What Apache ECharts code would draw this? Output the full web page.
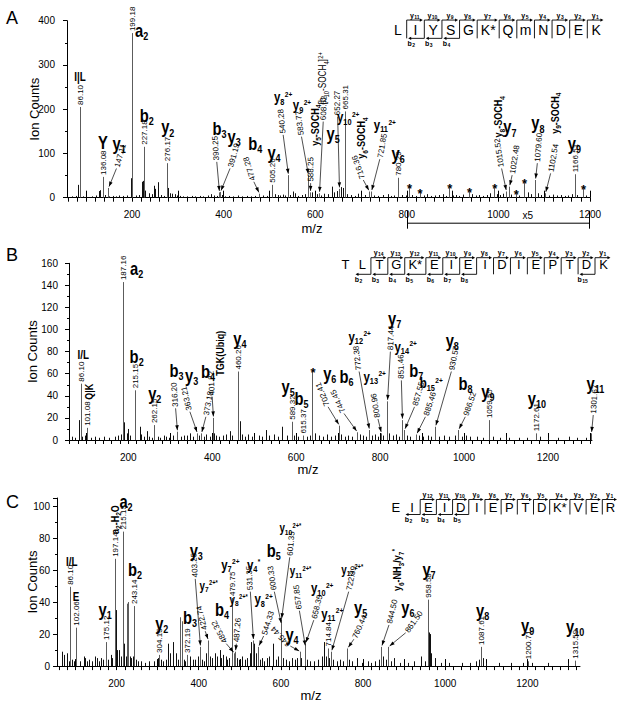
<!DOCTYPE html>
<html><head><meta charset="utf-8">
<script src="https://cdn.jsdelivr.net/npm/echarts@6/dist/echarts.min.js"></script>
<style>html,body{margin:0;padding:0;background:#fff}#c{width:624px;height:703px}</style>
</head><body><div id="c"></div>
<script>
// ================= DATA =================
// ---- Panel A ----
const peaksA = [[86.10,205],[136.08,47],[147.11,22],[199.18,372],[227.18,115],[276.17,78],[390.25,12],[391.19,13],[477.28,9],[505.26,29],[540.28,51],[583.77,51],[588.25,12],[608.62,10],[652.27,20],[665.31,195],[716.36,14],[721.85,14],[780.29,45],[805,24],[828,12],[893,22],[935.6,13],[991,22],[1015.52,14],[1022.48,25],[1038,9],[1056,34],[1079.60,40],[1102.54,10],[1166.51,53],[1185,20]];
const noiseA = [[70,3],[78,4],[83,29],[92,3],[100,2],[112,3],[121,5],[127,15],[130,17],[140,6],[150,3],[158,4],[165,3],[172,5],[181,4],[188,5],[197,44],[201,12],[209,5],[215,6],[221,36],[224,38],[229,16],[238,10],[244,8],[248,27],[251,20],[257,35],[263,6],[270,4],[278,22],[283,10],[287,9],[293,8],[298,5],[305,4],[312,3],[320,3],[330,4],[337,3],[348,4],[355,3],[366,5],[372,8],[379,5],[386,4],[396,6],[404,3],[411,4],[420,3],[431,5],[440,3],[452,4],[460,3],[468,4],[486,5],[495,4],[512,8],[518,6],[523,5],[530,7],[535,5],[546,6],[552,14],[556,10],[563,4],[572,6],[578,8],[594,12],[599,7],[603,8],[613,5],[620,9],[628,8],[636,25],[641,12],[647,15],[657,24],[661,22],[670,8],[678,6],[686,4],[693,9],[700,5],[708,6],[728,5],[738,4],[748,6],[758,8],[766,4],[772,5],[790,6],[798,5],[812,6],[820,4],[838,5],[845,8],[852,4],[862,5],[870,6],[880,8],[885,4],[900,5],[908,6],[915,4],[922,7],[942,8],[950,5],[958,6],[966,4],[975,6],[982,10],[998,8],[1004,6],[1010,9],[1028,7],[1046,5],[1064,12],[1071,8],[1086,10],[1092,6],[1110,5],[1120,7],[1128,5],[1136,6],[1145,4],[1152,5],[1160,8],[1172,6],[1192,5]];
const starsA = [805,828,893,935.6,991,1038,1056,1185];
const massA = [[86.10],[136.08],[147.11,166,66],[199.18],[227.18],[276.17],[390.25,385,81],[391.19,414,66],[477.28,466,36],[505.26],[540.28,530,142],[583.77,570,138],[588.25,590,33],[608.62,617.5,172],[652.27,649,183],[665.31],[716.36,705,40],[721.85,741,87],[780.29],[1015.52,1007,66],[1022.48,1030,51],[1079.60,1085,78],[1102.54,1114,55],[1166.51]];
const ionBigA = [['Y',136.5,126],['y_1',172,123],['a_2',221,379],['b_2',232,187],['y_2',278,160],['b_3',391,157],['y_3',423,138],['b_4',469,123],['y_4',510,103],['y_5',639,146],['y_6',781,100],['y_7',1025,160],['y_8',1086,169],['y_9',1166,123]];
const ionMedA = [['y_8^{2+}',530,227],['y_9^{2+}',571,209],['y_{10}^{2+}',672,182],['y_{11}^{2+}',752,164]];
const ionSmallA = [['I|L',86.3,273]];
const ionRotA = [['y_5-SOCH_4',599,164],['y_6-SOCH_4',701,135],['y_8-SOCH_4',1000,183],['y_9-SOCH_4',1123,191]];
const ionRotNA = [['[b_{10}-SOCH_4]^{2+}',617,270]];
const seqA = ['L','I','Y','S','G','K*','Q','m','N','D','E','K'];
const seqYA = [1,2,3,4,5,6,7,8,9,10,11];
const seqBA = [2,3,4];

// ---- Panel B ----
const peaksB = [[86.10,51],[101.08,11],[187.16,143],[215.15,45],[262.15,13.5],[316.20,7.5],[363.21,6],[373.18,6],[401.22,20],[460.26,62],[589.32,16.5],[615.37,4],[638.8,62],[702.41,13],[744.45,7],[772.38,9],[800.96,6],[817.44,35],[851.46,18],[857.55,9],[885.46,5],[930.57,12],[986.52,9],[1059.55,18],[1172.61,6],[1301.67,6]];
const noiseB = [[66,3],[74,2],[82,18],[90,3],[97,4],[112,2],[120,3],[130,2],[142,3],[155,2],[168,3],[175,4],[183,5],[190,16],[196,6],[200,10],[205,4],[227,12],[231,5],[237,3],[244,8],[250,3],[256,2],[270,3],[276,2],[284,4],[290,3],[298,2],[306,4],[326,3],[332,4],[340,4],[347,6],[355,3],[369,4],[380,3],[386,5],[395,3],[405,6],[410,4],[416,3],[425,4],[432,5],[442,8],[447,4],[465,17],[470,5],[478,3],[486,5],[494,3],[500,2],[512,4],[519,3],[527,9],[536,4],[546,5],[556,3],[567,12],[578,4],[594,4],[604,3],[625,3],[632,4],[645,6],[655,4],[663,3],[673,5],[684,3],[693,4],[708,5],[716,3],[724,4],[732,3],[752,5],[760,4],[767,3],[780,4],[788,5],[795,3],[808,4],[822,6],[830,4],[838,5],[845,3],[864,4],[872,3],[893,4],[903,3],[915,4],[922,3],[940,3],[952,4],[965,3],[978,4],[995,3],[1005,4],[1015,3],[1030,3],[1045,2],[1070,3],[1085,2],[1100,3],[1108,2],[1130,2],[1150,2],[1180,3],[1200,2],[1225,2],[1250,3],[1270,2],[1290,2]];
const starsB = [638.8];
const massB = [[86.10],[101.08],[187.16],[215.15],[262.15],[316.20,312.6,28.7],[363.21,346.7,25.6],[373.18,384.8,21],[401.22,399.8,39],[460.26],[589.32],[615.37],[702.41,676,30],[744.45,714,24],[772.38,750,62],[800.96,795,19],[817.44,824.5,80],[851.46,850.7,54],[857.55,882,30],[885.46,908,21],[930.57,969.8,62],[986.52,1003,21],[1059.55],[1172.61],[1301.67,1308,22.6]];
const ionBigB = [['a_2',219.8,155.5],['b_2',219.8,75.5],['y_2',263,42],['b_3',315,63.4],['y_3',350.7,58.9],['b_4',390,61.9],['y_4',465.7,92],['y_5',580.7,48.3],['b_5',612.6,37.8],['y_6',680,60.4],['b_6',719.7,57.4],['y_7',834.8,110],['b_7',886,63.4],['y_8',972,90.6],['b_8',1003.8,51.3],['y_9',1057,43.8],['y_{10}',1173.6,37.8],['y_{11}',1313,51.3]];
const ionMedB = [['y_{12}^{2+}',751.4,93.6],['y_{13}^{2+}',787,57.4],['y_{14}^{2+}',861,84.5],['b_{15}^{2+}',922,51.3]];
const ionSmallB = [['I/L',92.6,77]];
const ionRotB = [['Q|K',107,43.8],['TGK(Ubiq)',418,78.5]];
const ionRotNB = [];
const seqB = ['T','L','T','G','K*','E','I','E','I','D','I','E','P','T','D','K'];
const seqYB = [2,3,4,5,6,7,8,9,10,11,12,13,14,15];
const seqBB = [2,3,4,5,6,7,8,15];

// ---- Panel C ----
const peaksC = [[86.10,49.5],[102.06,24],[175.12,15],[197.14,67],[215.15,84],[226,39],[229,40],[243.14,37.5],[304.15,7],[355,30.5],[359,28],[372.19,7],[403.25,12],[422.74,16],[479.75,42.5],[485.32,8],[487.26,9],[531.35,16],[544.33,12],[600.33,26],[601.35,29],[645.44,9],[657.85,12],[658.35,14],[714.84,11],[722.39,9],[760.44,11],[844.50,12],[861.50,12],[958.58,41.5],[1087.61,12],[1200.71,3],[1315.59,3.4]];
const noiseC = [[66,9],[72,7],[80,8],[84,3],[92,4],[97,3],[110,3],[120,6],[124,5],[128,3],[134,4],[141,3],[147,6],[152,5],[158,3],[163,5],[168,4],[180,4],[186,7],[190,5],[198,35],[201,10],[205,10],[210,6],[218,14],[222,6],[232,6],[236,5],[240,6],[247,4],[252,3],[260,3],[270,2],[280,3],[290,3],[300,5],[308,4],[314,3],[320,4],[326,14],[331,8],[338,15],[344,8],[350,4],[363,4],[367,3],[378,6],[385,4],[392,4],[398,6],[408,4],[413,3],[418,8],[428,6],[433,5],[440,8],[445,6],[451,10],[455,5],[460,7],[466,6],[470,4],[474,5],[482,14],[492,5],[498,4],[505,6],[512,4],[518,5],[525,8],[528,15],[535,14],[540,8],[549,4],[555,5],[560,3],[567,5],[572,6],[580,14],[587,4],[594,6],[605,5],[612,4],[620,3],[628,5],[635,4],[640,5],[650,5],[664,4],[670,3],[680,3],[690,4],[700,6],[704,15],[710,6],[718,5],[728,4],[736,3],[744,4],[752,3],[765,4],[772,3],[785,5],[798,2],[812,3],[820,2],[830,3],[838,4],[848,6],[855,4],[868,3],[875,5],[890,2],[910,2],[925,3],[940,6],[950,3],[959.5,21],[962,20],[966,8],[975,5],[990,2],[1010,2],[1040,2],[1060,2],[1075,3],[1083,4],[1092,5],[1100,2],[1130,2],[1160,2],[1190,2],[1210,2],[1250,2],[1300,2]];
const starsC = [];
const massC = [[86.10],[102.06],[175.12],[197.14],[215.15],[243.14],[304.15],[372.19],[403.25,391.5,54.5],[422.74,415.8,21.8],[479.75],[485.32,467,14],[487.26,491.5,14],[531.35,525.6,46.5],[544.33,558,18.8],[600.33,584,46.5],[601.35,621.5,68],[645.44,623,12.5],[657.85,645,34.6],[658.35,680,28.7],[714.84],[722.39,765,46.5],[760.44,777.6,16.8],[844.50,863,25.7],[861.50,903.7,20.8],[958.58],[1087.61],[1200.71],[1315.59]];
const ionBigC = [['a_2',223,103],['b_2',245,60.4],['y_1',172,35.7],['y_2',310,26.7],['b_3',379,30.7],['y_3',394,72.3],['b_4',456.6,35.7],['b_5',582.5,72.3],['y_4',627,19.8],['y_5',794,36.7],['y_6',909,36.7],['y_7',960.5,60.4],['y_8',1091,34.6],['y_9',1200.5,25.7],['y_{10}',1316,24.7]];
const ionMedC = [['y_7^{2+}',477,63.4],['y_4^*',533.7,63.4],['y_8^{2+}',558,41.6],['y_{10}^{2+}',700.5,48.5],['y_{11}^{2+}',725,32.7]];
const ionSmallC = [['y_7^{2+*}',424,50.5],['y_8^{2+*}',497,41.6],['y_{10}^{2+*}',623,86.2],['y_{11}^{2+*}',647.6,59.4],['y_{12}^{2+*}',773.6,60.4],['I/L',90.7,65.4],['E',101.2,43.6]];
const ionRotC = [['a_2-H_2O',196.3,91.5],['y_6-NH_3/y_7^*',883,60]];
const ionRotNC = [];
const seqC = ['E','I','E','I','D','I','E','P','T','D','K*','V','E','R'];
const seqYC = [2,3,4,5,6,7,8,9,10,11,12,13];
const seqBC = [2,3,4,5];

// axis ranges and tick labels
const xRange = [[58,1200],[58.6,1305],[55,1328]];
const yRange = [[0,400,100],[0,160,20],[0,105,20]];
const xTickLabels = [200,400,600,800,1000,1200];
const zoomRegionA = [800,1200];

// ================= LAYOUT / STYLE =================
const FONT = '"Liberation Sans", Arial, Helvetica, sans-serif';
const grids = [
  {left:67, top:20.7, width:523, height:177},
  {left:69, top:263.3, width:523, height:176.7},
  {left:57, top:498, width:523, height:177}
];

function hAt(mz, arrs){
  let best=null, bd=1e9;
  arrs.forEach(a=>a.forEach(p=>{const d=Math.abs(p[0]-mz); if(d<bd){bd=d;best=p[1];}}));
  return best;
}
const measCtx = document.createElement('canvas').getContext('2d');
function tw(t, font){ measCtx.font = font; return measCtx.measureText(t).width; }
function parseIon(str){
  const segs=[]; let buf='', i=0;
  const flush=()=>{ if(buf){ segs.push({t:buf,k:'n'}); buf=''; } };
  while(i<str.length){
    const c=str[i];
    if(c==='_'||c==='^'){
      flush(); let t;
      if(str[i+1]==='{'){ const j=str.indexOf('}',i); t=str.slice(i+2,j); i=j+1; }
      else { t=str[i+1]; i+=2; }
      segs.push({t:t,k:c==='_'?'s':'p'});
    } else { buf+=c; i++; }
  }
  flush(); return segs;
}
const ION_CLS = {B:{n:18,s:11,p:10,w:'bold'}, M:{n:14,s:9,p:8,w:'bold'}, S:{n:12,s:8,p:7,w:'bold'},
                 R:{n:11,s:8,p:7,w:'bold'}, N:{n:10,s:7,p:7,w:'normal'}};

function stickSeries(g, data, color){
  return {type:'custom', xAxisIndex:g, yAxisIndex:g, data:data, clip:true, silent:true, z:2,
    encode:{x:0,y:1},
    renderItem:function(params, api){
      const p0=api.coord([api.value(0),0]), p1=api.coord([api.value(0),api.value(1)]);
      const x=Math.round(p0[0])+0.5;
      return {type:'line', shape:{x1:x,y1:p0[1],x2:x,y2:p1[1]}, style:{stroke:color,lineWidth:1}};
    }};
}
function massSeries(g, labels, arrs){
  return {type:'custom', xAxisIndex:g, yAxisIndex:g, clip:false, silent:true, z:5,
    data: labels.map((d,i)=>[d[0], hAt(d[0],arrs), i]), encode:{x:0,y:1},
    renderItem:function(params, api){
      const d=labels[params.dataIndex];
      const mz=d[0], h=hAt(mz,arrs);
      const top=api.coord([mz,h]);
      const txt=mz.toFixed(2);
      const font='8px '+FONT;
      const ch=[];
      if(d.length<3){
        ch.push({type:'text', x:Math.round(top[0])+0.5, y:top[1]-2, rotation:Math.PI/2,
          style:{text:txt, font:font, fill:'#000', align:'left', verticalAlign:'middle'}});
      } else {
        const lp=api.coord([d[1],d[2]]);
        const tx=Math.round(top[0])+0.5;
        const dx=lp[0]-tx, dy=lp[1]-top[1], L=Math.hypot(dx,dy)||1, ux=dx/L, uy=dy/L;
        const tip=[tx+ux*1.5, top[1]+uy*1.5];
        ch.push({type:'line', shape:{x1:lp[0],y1:lp[1],x2:tip[0],y2:tip[1]}, style:{stroke:'#222',lineWidth:0.8}});
        const ah=5, aw=1.8, bx=tip[0]+ux*ah, by=tip[1]+uy*ah;
        ch.push({type:'polygon', shape:{points:[[tip[0],tip[1]],[bx-uy*aw,by+ux*aw],[bx+uy*aw,by-ux*aw]]}, style:{fill:'#000'}});
        const ang=-Math.atan2(dy,dx);
        const rot=Math.PI/2+0.7*(ang-Math.PI/2);
        ch.push({type:'text', x:lp[0]+ux*1.5, y:lp[1]+uy*1.5, rotation:rot,
          style:{text:txt, font:font, fill:'#000', align:'left', verticalAlign:'middle'}});
      }
      return {type:'group', children:ch};
    }};
}
function starSeries(g, stars, arrs){
  return {type:'custom', xAxisIndex:g, yAxisIndex:g, clip:false, silent:true, z:5,
    data: stars.map(m=>[m, hAt(m,arrs)]), encode:{x:0,y:1},
    renderItem:function(params, api){
      const p=api.coord([api.value(0),api.value(1)]);
      return {type:'text', x:p[0]+0.5, y:p[1]+1, style:{text:'*', font:'bold 13px '+FONT, fill:'#000', align:'center', verticalAlign:'middle'}};
    }};
}
function ionSeries(g, arr, cls, rotated){
  const c=ION_CLS[cls];
  return {type:'custom', xAxisIndex:g, yAxisIndex:g, clip:false, silent:true, z:6,
    data: arr.map(d=>[d[1],d[2]]), encode:{x:0,y:1},
    renderItem:function(params, api){
      const d=arr[params.dataIndex];
      const segs=parseIon(d[0]);
      let x=0; const items=[];
      segs.forEach(sg=>{
        const size=c[sg.k], font=c.w+' '+size+'px '+FONT;
        const dy = sg.k==='n' ? 0 : (sg.k==='s' ? 0.33*c.n : -0.24*c.n);
        if(sg.k==='p') x+=0.5;
        items.push({type:'text', x:x, y:dy, style:{text:sg.t, font:font, fill:'#000', align:'left', verticalAlign:'middle'}});
        x+=tw(sg.t, font);
      });
      items.forEach(it=>{ it.x-=x/2; });
      const p=api.coord([d[1],d[2]]);
      return {type:'group', x:p[0], y:p[1], rotation: rotated?Math.PI/2:0, scaleX:0.82, children:items};
    }};
}
function bracketSeries(g, region){
  return {type:'custom', xAxisIndex:g, yAxisIndex:g, clip:false, silent:true, z:5,
    data:[[region[0],0,region[1]]], encode:{x:[0,2],y:1},
    renderItem:function(params, api){
      const a=api.coord([api.value(0),0]), b=api.coord([api.value(2),0]);
      const mid=api.coord([region[0]+(region[1]-region[0])*0.66,0]);
      const y=a[1], xa=Math.round(a[0])+0.5, xb=Math.round(b[0])-0.5;
      const st={stroke:'#000',lineWidth:1};
      return {type:'group', children:[
        {type:'line', shape:{x1:xa,y1:y+25.5,x2:xb,y2:y+25.5}, style:st},
        {type:'line', shape:{x1:xa,y1:y+13,x2:xa,y2:y+31}, style:st},
        {type:'line', shape:{x1:xb,y1:y+13,x2:xb,y2:y+31}, style:st},
        {type:'text', x:mid[0], y:y+17.5, style:{text:'x5', font:'10px '+FONT, fill:'#000', align:'center', verticalAlign:'middle'}}
      ]};
    }};
}

function seqElems(letters, yGaps, bGaps, g1, gN, cyBox, h, cyLet, fs){
  const n=letters.length, els=[];
  const wf=letters.map(l=>l.length>1?1.25:1);
  let s=0; for(let i=1;i<=n-2;i++) s+=wf[i];
  const w=(gN-g1)/s;
  const gx=[]; gx[1]=g1;
  for(let g=2; g<=n-1; g++) gx[g]=gx[g-1]+wf[g-1]*w;
  const top=cyBox-h/2, bot=cyBox+h/2;
  letters.forEach((l,i)=>{
    const x = i===0 ? g1-w/2 : (i===n-1 ? gx[n-1]+w/2 : (gx[i]+gx[i+1])/2);
    els.push({type:'text', x:x, y:cyLet, style:{text:l, font:fs+'px '+FONT, fill:'#000', align:'center', verticalAlign:'middle'}});
  });
  const line=(x1,y1,x2,y2)=>({type:'line', shape:{x1,y1,x2,y2}, style:{stroke:'#000',lineWidth:0.9}});
  const lab=(x,y,m,sub)=>{
    const f1='bold 7px '+FONT, f2='bold 5px '+FONT;
    const w1=tw(m,f1), w2=tw(sub,f2), x0=x-(w1+w2+0.4)/2;
    return [{type:'text', x:x0, y:y, style:{text:m, font:f1, fill:'#000', align:'left', verticalAlign:'middle'}},
            {type:'text', x:x0+w1+0.4, y:y+1.5, style:{text:sub, font:f2, fill:'#000', align:'left', verticalAlign:'middle'}}];
  };
  for(let g=1; g<=n-1; g++){
    const hy=yGaps.includes(g), hb=bGaps.includes(g);
    if(!hy && !hb) continue;
    const x=gx[g];
    els.push(line(x, hy?top:cyBox, x, bot));
    if(hy){
      const x2=x+wf[g]*w-1.5;
      els.push(line(x,top,x2-2,top));
      els.push({type:'polygon', shape:{points:[[x2,top],[x2-3,top-1.6],[x2-3,top+1.6]]}, style:{fill:'#000'}});
      lab((x+x2)/2, top-5, 'y', String(n-g)).forEach(e=>els.push(e));
    }
    if(hb){
      const x2=x-wf[g-1]*w+1.5;
      els.push(line(x,bot,x2+2,bot));
      els.push({type:'polygon', shape:{points:[[x2,bot],[x2+3,bot-1.6],[x2+3,bot+1.6]]}, style:{fill:'#000'}});
      lab(x2+3, bot+5, 'b', String(g)).forEach(e=>els.push(e));
    }
  }
  return els;
}

// ================= OPTION =================
function ticksEvery(step, min, max){ const r=[]; for(let v=Math.ceil(min/step)*step; v<=max; v+=step) r.push(v); return r; }
const xNameCfg = [{gap:24,pad:33},{gap:22,pad:45},{gap:16,pad:15}];
const yNameGap = [26,30,18];
const yLabMargin = [12,11,7];

const xAxes=[], yAxes=[];
for(let g=0; g<3; g++){
  const [mn,mx]=xRange[g];
  xAxes.push({gridIndex:g, type:'value', min:mn, max:mx, name:'m/z', nameLocation:'middle', nameGap:xNameCfg[g].gap,
    nameTextStyle:{fontSize:13, fontFamily:FONT, color:'#000', padding:[0,xNameCfg[g].pad,0,0]},
    axisLine:{onZero:false, lineStyle:{color:'#000', width:1}},
    axisTick:{show:true, customValues:ticksEvery(20,mn,mx), length:4, lineStyle:{color:'#000'}},
    axisLabel:{customValues:xTickLabels, margin:12, fontSize:10, fontFamily:FONT, color:'#000', formatter:v=>String(v)},
    splitLine:{show:false}});
}
for(let g=0; g<3; g++){
  const [mn,mx]=xRange[g];
  xAxes.push({gridIndex:g, type:'value', min:mn, max:mx, axisLine:{show:false},
    axisTick:{show:true, customValues:ticksEvery(100,mn,mx), length:7, lineStyle:{color:'#000'}},
    axisLabel:{show:false}, splitLine:{show:false}});
}
for(let g=0; g<3; g++){
  const [mn,mx,iv]=yRange[g];
  yAxes.push({gridIndex:g, type:'value', min:mn, max:mx, interval:iv, name:'Ion Counts', nameLocation:'middle', nameGap:yNameGap[g],
    nameMoveOverlap:false,
    nameTextStyle:{fontSize:13, fontFamily:FONT, color:'#000'},
    axisLine:{show:true, lineStyle:{color:'#000', width:1}},
    axisTick:{show:true, length:4, lineStyle:{color:'#000'}},
    minorTick:{show:true, splitNumber:2, length:2, lineStyle:{color:'#000'}},
    axisLabel:{fontSize:10, fontFamily:FONT, color:'#000', margin:yLabMargin[g]},
    splitLine:{show:false}});
}

const P = [
  {peaks:peaksA, noise:noiseA, stars:starsA, mass:massA, big:ionBigA, med:ionMedA, small:ionSmallA, rot:ionRotA, rotN:ionRotNA},
  {peaks:peaksB, noise:noiseB, stars:starsB, mass:massB, big:ionBigB, med:ionMedB, small:ionSmallB, rot:ionRotB, rotN:ionRotNB},
  {peaks:peaksC, noise:noiseC, stars:starsC, mass:massC, big:ionBigC, med:ionMedC, small:ionSmallC, rot:ionRotC, rotN:ionRotNC}
];
const series=[];
P.forEach((p,g)=>{
  series.push(stickSeries(g, p.noise, '#111'));
  series.push(stickSeries(g, p.peaks, '#5c5c5c'));
  series.push(massSeries(g, p.mass, [p.peaks]));
  if(p.stars.length) series.push(starSeries(g, p.stars, [p.peaks]));
  series.push(ionSeries(g, p.big, 'B'));
  series.push(ionSeries(g, p.med, 'M'));
  series.push(ionSeries(g, p.small, 'S'));
  if(p.rot.length) series.push(ionSeries(g, p.rot, 'R', true));
  if(p.rotN.length) series.push(ionSeries(g, p.rotN, 'N', true));
});
series.push(bracketSeries(0, zoomRegionA));

const graphic = [
  {type:'text', left:6, top:9, style:{text:'A', font:'18px '+FONT, fill:'#000'}},
  {type:'text', left:6, top:246, style:{text:'B', font:'18px '+FONT, fill:'#000'}},
  {type:'text', left:6, top:493, style:{text:'C', font:'18px '+FONT, fill:'#000'}},
  {type:'group', children:[].concat(
    seqElems(seqA, seqYA, seqBA, 406.7, 587.3, 29.2, 18.3, 30.3, 14),
    seqElems(seqB, seqYB, seqBB, 354, 595, 266, 16.6, 264.5, 13),
    seqElems(seqC, seqYC, seqBC, 404, 602.3, 507, 15, 507, 13)
  )}
];

const chart = echarts.init(document.getElementById('c'), null, {renderer:'svg', width:624, height:703});
chart.setOption({
  animation:false, backgroundColor:'#fff',
  textStyle:{fontFamily:FONT},
  grid:grids, xAxis:xAxes, yAxis:yAxes, series:series, graphic:graphic
});
</script>
</body></html>
